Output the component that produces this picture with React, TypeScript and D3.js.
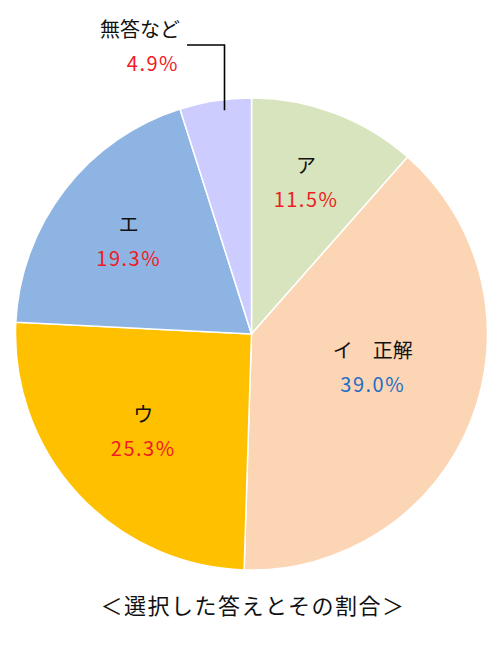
import React from "react";
import * as d3 from "d3";

const categories = ["ア", "イ　正解", "ウ", "エ", "無答など"];
const values = [11.5, 39.0, 25.3, 19.3, 4.9];
const valueLabels = ["11.5%", "39.0%", "25.3%", "19.3%", "4.9%"];
const colors = ["#D7E4BD", "#FCD5B5", "#FFC000", "#8EB4E3", "#CCCCFF"];
const valueColors = ["#EE1C25", "#1F6FC5", "#EE1C25", "#EE1C25", "#EE1C25"];
const title = "＜選択した答えとその割合＞";

// layout nudges for label placement (Excel best-fit)
const labelNudge: [number, number][] = [
  [2, -13],
  [-17, -22],
  [1, -4],
  [-5, -3],
  [0, 0],
];

const W = 501;
const H = 660;
const cx = 251.5;
const cy = 334;
const R = 236;
const FONT = "'Noto Sans CJK JP', 'Noto Sans', sans-serif";

export default function App() {
  const pie = d3
    .pie<number>()
    .sort(null)
    .value((d) => d);
  const arcs = pie(values);
  const arc = d3.arc<d3.PieArcDatum<number>>().innerRadius(0).outerRadius(R);
  const labelArc = d3
    .arc<d3.PieArcDatum<number>>()
    .innerRadius(R * 0.63)
    .outerRadius(R * 0.63);

  const last = arcs[arcs.length - 1];
  const leadAngle = last.startAngle + (last.endAngle - last.startAngle) * 0.61;
  const lx = cx + R * 0.955 * Math.sin(leadAngle);
  const ly = cy - R * 0.955 * Math.cos(leadAngle);
  const elbowY = 45;
  const elbowX = 187;

  return (
    <svg
      width={W}
      height={H}
      style={{ position: "absolute", left: 0, top: 0, background: "#fff" }}
      fontFamily={FONT}
    >
      <g transform={`translate(${cx},${cy})`}>
        {arcs.map((a, i) => (
          <path
            key={i}
            d={arc(a) || ""}
            fill={colors[i]}
            stroke="#fff"
            strokeWidth={1.5}
          />
        ))}
        {arcs.slice(0, 4).map((a, i) => {
          const [x, y] = labelArc.centroid(a);
          const tx = x + labelNudge[i][0];
          const ty = y + labelNudge[i][1];
          return (
            <g key={i}>
              <text
                x={tx}
                y={ty - 17}
                textAnchor="middle"
                dominantBaseline="central"
                fontSize={20}
                fill="#111"
              >
                {categories[i]}
              </text>
              <text
                x={tx}
                y={ty + 17}
                textAnchor="middle"
                dominantBaseline="central"
                fontSize={20}
                letterSpacing={1.5}
                fill={valueColors[i]}
              >
                {valueLabels[i]}
              </text>
            </g>
          );
        })}
      </g>
      <polyline
        points={`${lx},${ly} ${lx},${elbowY} ${elbowX},${elbowY}`}
        fill="none"
        stroke="#000"
        strokeWidth={1.6}
      />
      <text
        x={180}
        y={28}
        textAnchor="end"
        dominantBaseline="central"
        fontSize={20}
        fill="#111"
      >
        {categories[4]}
      </text>
      <text
        x={179}
        y={62}
        textAnchor="end"
        dominantBaseline="central"
        fontSize={20}
        letterSpacing={1.5}
        fill={valueColors[4]}
      >
        {valueLabels[4]}
      </text>
      <text
        x={253}
        y={604}
        textAnchor="middle"
        dominantBaseline="central"
        fontSize={22}
        letterSpacing={1.5}
        fill="#111"
      >
        {title}
      </text>
    </svg>
  );
}
